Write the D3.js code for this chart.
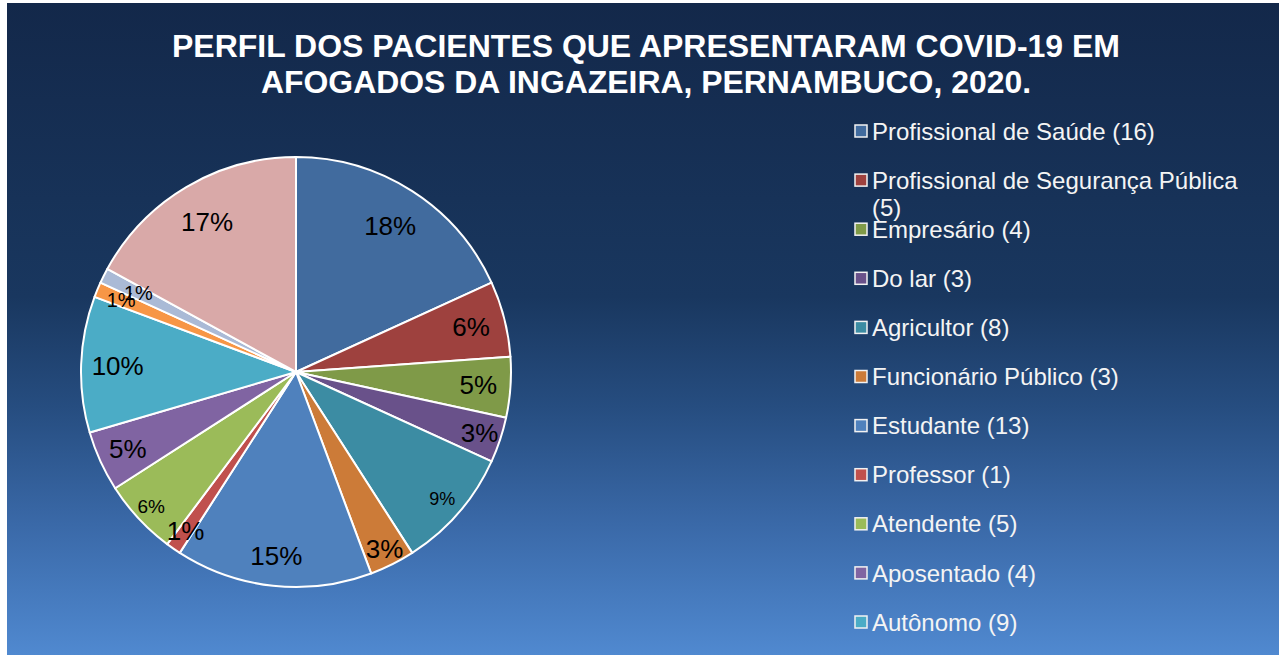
<!DOCTYPE html>
<html><head><meta charset="utf-8">
<script src="https://cdn.jsdelivr.net/npm/d3@7/dist/d3.min.js"></script>
<style>html,body{margin:0;padding:0;background:#fff;}svg{display:block;}</style>
</head><body>
<svg id="chart" width="1279" height="655"></svg>
<script>
const titleLines = ["PERFIL DOS PACIENTES QUE APRESENTARAM COVID-19 EM", "AFOGADOS DA INGAZEIRA, PERNAMBUCO, 2020."];
const categories = ["Profissional de Saúde", "Profissional de Segurança Pública", "Empresário", "Do lar", "Agricultor", "Funcionário Público", "Estudante", "Professor", "Atendente", "Aposentado", "Autônomo", "Outros (a)", "Outros (b)", "Outros (c)"];
const counts = [16, 5, 4, 3, 8, 3, 13, 1, 5, 4, 9, 1, 1, 15];
const colors = ["#416B9E", "#9E413E", "#7F9A48", "#69518A", "#3C8CA3", "#CC7B38", "#4F81BD", "#C0504D", "#9BBB59", "#8064A2", "#4BACC6", "#F79646", "#AABAD6", "#D9A9A8"];
const legendCount = 11;
// label styling (font size and radial placement as fraction of radius)
const labelFont = {4: 18, 8: 19, 11: 20, 12: 20};
const labelRad = [0.81, 0.84, 0.85, 0.90, 0.90, 0.92, 0.86, 0.90, 0.92, 0.86, 0.83, 0.88, 0.82, 0.81];

const svg = d3.select("#chart");
const defs = svg.append("defs");
const grad = defs.append("linearGradient").attr("id", "bg").attr("x1", 0).attr("y1", 0).attr("x2", 0).attr("y2", 1);
[[0, "#13284A"], [0.45, "#19375F"], [0.62, "#264D80"], [0.8, "#3A69A8"], [1, "#5089D0"]].forEach(s => grad.append("stop").attr("offset", s[0]).attr("stop-color", s[1]));
svg.append("rect").attr("x", 7).attr("y", 3).attr("width", 1272).attr("height", 652).attr("fill", "url(#bg)");

// Title
const tpos = [{y: 57, w: 948}, {y: 93, w: 770}];
titleLines.forEach((t, i) => {
  svg.append("text").attr("x", 646).attr("y", tpos[i].y)
    .attr("text-anchor", "middle").attr("fill", "#fff")
    .attr("font-family", "Liberation Sans, Arial, sans-serif").attr("font-weight", "bold").attr("font-size", 32)
    .attr("textLength", tpos[i].w).attr("lengthAdjust", "spacingAndGlyphs")
    .text(t);
});

// Pie
const cx = 296, cy = 372, R = 215;
const total = d3.sum(counts);
const data = categories.map((c, i) => ({name: c, value: counts[i], i}));
const pie = d3.pie().value(d => d.value).sort(null);
const arc = d3.arc().innerRadius(0).outerRadius(R);
const g = svg.append("g").attr("transform", `translate(${cx},${cy})`);
const arcs = pie(data);
g.selectAll("path").data(arcs).join("path")
  .attr("d", arc).attr("fill", d => colors[d.data.i])
  .attr("stroke", "#fff").attr("stroke-width", 2).attr("stroke-linejoin", "round");
g.selectAll("text.lbl").data(arcs).join("text").attr("class", "lbl")
  .attr("transform", d => {
    const r = R * labelRad[d.data.i];
    return `translate(${d3.arc().innerRadius(r).outerRadius(r).centroid(d)})`;
  })
  .attr("text-anchor", "middle").attr("dy", "0.35em")
  .attr("font-family", "Liberation Sans, Arial, sans-serif")
  .attr("font-size", d => labelFont[d.data.i] || 26)
  .attr("fill", "#000")
  .text(d => Math.round(d.data.value / total * 100) + "%");

// Legend
const lx = 855, ly0 = 131, step = 49.1, maxW = 385;
const leg = svg.append("g");
data.slice(0, legendCount).forEach((d, i) => {
  const y = ly0 + i * step;
  leg.append("rect").attr("x", lx).attr("y", y - 6).attr("width", 12).attr("height", 12)
    .attr("fill", colors[i]).attr("stroke", "#F2F2F2").attr("stroke-width", 1.5);
  const txt = leg.append("text").attr("x", lx + 17).attr("y", y).attr("dy", "0.36em")
    .attr("fill", "#F4F4F4").attr("font-family", "Liberation Sans, Arial, sans-serif").attr("font-size", 24);
  const words = (d.name + " (" + d.value + ")").split(" ");
  let line = [], tspan = txt.append("tspan").attr("x", lx + 17);
  words.forEach(w => {
    line.push(w);
    tspan.text(line.join(" "));
    if (tspan.node().getComputedTextLength() > maxW && line.length > 1) {
      line.pop();
      tspan.text(line.join(" "));
      line = [w];
      tspan = txt.append("tspan").attr("x", lx + 17).attr("dy", 27).text(w);
    }
  });
});
</script>
</body></html>
